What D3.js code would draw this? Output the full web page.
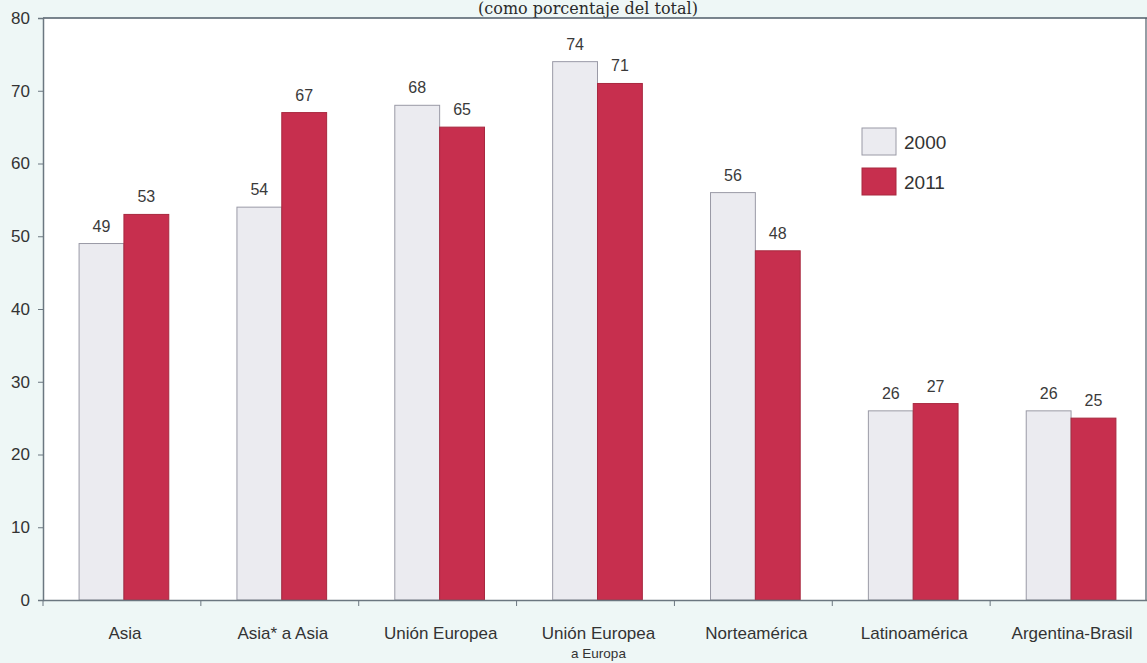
<!DOCTYPE html>
<html><head><meta charset="utf-8">
<script src="https://cdn.jsdelivr.net/npm/d3@7"></script>
<style>
html,body{margin:0;padding:0;background:#eef7f6;}
svg{display:block;}
</style></head>
<body>
<svg id="chart" width="1147" height="663"></svg>
<script>
const categories = ["Asia", "Asia* a Asia", "Unión Europea", "Unión Europea|a Europa", "Norteamérica", "Latinoamérica", "Argentina-Brasil"];
const seriesNames = ["2000", "2011"];
const values2000 = [49, 54, 68, 74, 56, 26, 26];
const values2011 = [53, 67, 65, 71, 48, 27, 25];
const yTicks = [0, 10, 20, 30, 40, 50, 60, 70, 80];
const title = "(como porcentaje del total)";

const svg = d3.select("#chart");
const W = 1147, H = 663;
const mLeft = 43, mRight = 1148, mTop = 18, mBottom = 600;

const x0 = d3.scaleBand().domain(categories).range([mLeft, mRight]).padding(0);
const x1 = d3.scaleBand().domain(seriesNames).range([0, x0.bandwidth()]).paddingInner(0).paddingOuter(0.76);
const y = d3.scaleLinear().domain([0, 80]).range([mBottom, mTop]);

const fills = {"2000": "#ebebf0", "2011": "#c72f4e"};
const strokes = {"2000": "#9a9aa6", "2011": "#a8283f"};

// plot background
svg.append("rect").attr("x", mLeft).attr("y", mTop).attr("width", W - mLeft).attr("height", mBottom - mTop).attr("fill", "#ffffff");

// title
svg.append("text").attr("x", 588).attr("y", 14).attr("text-anchor", "middle")
  .attr("font-family", "DejaVu Serif, Liberation Serif, serif").attr("font-size", 16).attr("fill", "#2a2a2a")
  .text(title);

// bars
const data = categories.map((c, i) => ({cat: c, vals: [{s: "2000", v: values2000[i]}, {s: "2011", v: values2011[i]}]}));
const g = svg.append("g").selectAll("g").data(data).join("g")
  .attr("transform", d => `translate(${x0(d.cat) + 2},0)`);
g.selectAll("rect").data(d => d.vals).join("rect")
  .attr("x", d => x1(d.s)).attr("width", x1.bandwidth())
  .attr("y", d => y(d.v)).attr("height", d => y(0) - y(d.v))
  .attr("fill", d => fills[d.s]).attr("stroke", d => strokes[d.s]).attr("stroke-width", 1);
g.selectAll("text").data(d => d.vals).join("text")
  .attr("x", d => x1(d.s) + x1.bandwidth() / 2).attr("y", d => y(d.v) - 12)
  .attr("text-anchor", "middle")
  .attr("font-family", "Liberation Sans Narrow, Liberation Sans, Arial, sans-serif").attr("font-size", 16).attr("fill", "#3a3a3a")
  .text(d => d.v);

// frame top/right
svg.append("line").attr("x1", mLeft).attr("x2", W).attr("y1", mTop).attr("y2", mTop).attr("stroke", "#4f5d68").attr("stroke-width", 1.5);
svg.append("line").attr("x1", W - 1).attr("x2", W - 1).attr("y1", mTop).attr("y2", mBottom).attr("stroke", "#4f5d68").attr("stroke-width", 1.2);

// y axis
const yAxis = d3.axisLeft(y).tickValues(yTicks).tickSize(5).tickPadding(8);
const ya = svg.append("g").attr("transform", `translate(${mLeft},0)`).call(yAxis);
ya.select(".domain").attr("stroke", "#6b7780").attr("stroke-width", 1.5);
ya.selectAll(".tick line").attr("stroke", "#6b7780");
ya.selectAll(".tick text").attr("font-family", "Liberation Sans, Arial, sans-serif").attr("font-size", 17).attr("fill", "#333");

// x axis
const xAxis = d3.axisBottom(x0).tickSize(0).tickFormat("");
const xa = svg.append("g").attr("transform", `translate(0,${mBottom})`).call(xAxis);
xa.select(".domain").attr("stroke", "#6b7780").attr("stroke-width", 1.5);
xa.selectAll(".tick").remove();
const bounds = categories.map(c => x0(c)).concat([mRight]);
svg.append("g").selectAll("line").data(bounds).join("line")
  .attr("x1", d => d).attr("x2", d => d).attr("y1", mBottom).attr("y2", mBottom + 6)
  .attr("stroke", "#6b7780").attr("stroke-width", 1);

// category labels
const cl = svg.append("g").selectAll("text").data(categories).join("text")
  .attr("x", c => x0(c) + x0.bandwidth() / 2 + 3).attr("y", 639)
  .attr("text-anchor", "middle").attr("font-family", "Liberation Sans, Arial, sans-serif").attr("fill", "#333");
cl.each(function(c) {
  const parts = c.split("|");
  const t = d3.select(this);
  t.append("tspan").attr("font-size", 17).text(parts[0]);
  if (parts[1]) t.append("tspan").attr("x", t.attr("x")).attr("dy", 19).attr("font-size", 13.5).text(parts[1]);
});

// legend
const legend = svg.append("g");
const legY = [128, 168];
seriesNames.forEach((s, i) => {
  legend.append("rect").attr("x", 862).attr("y", legY[i]).attr("width", 34).attr("height", 27)
    .attr("fill", fills[s]).attr("stroke", strokes[s]);
  legend.append("text").attr("x", 904).attr("y", legY[i] + 21)
    .attr("font-family", "Liberation Sans, Arial, sans-serif").attr("font-size", 19).attr("fill", "#333").text(s);
});
</script>
</body></html>
